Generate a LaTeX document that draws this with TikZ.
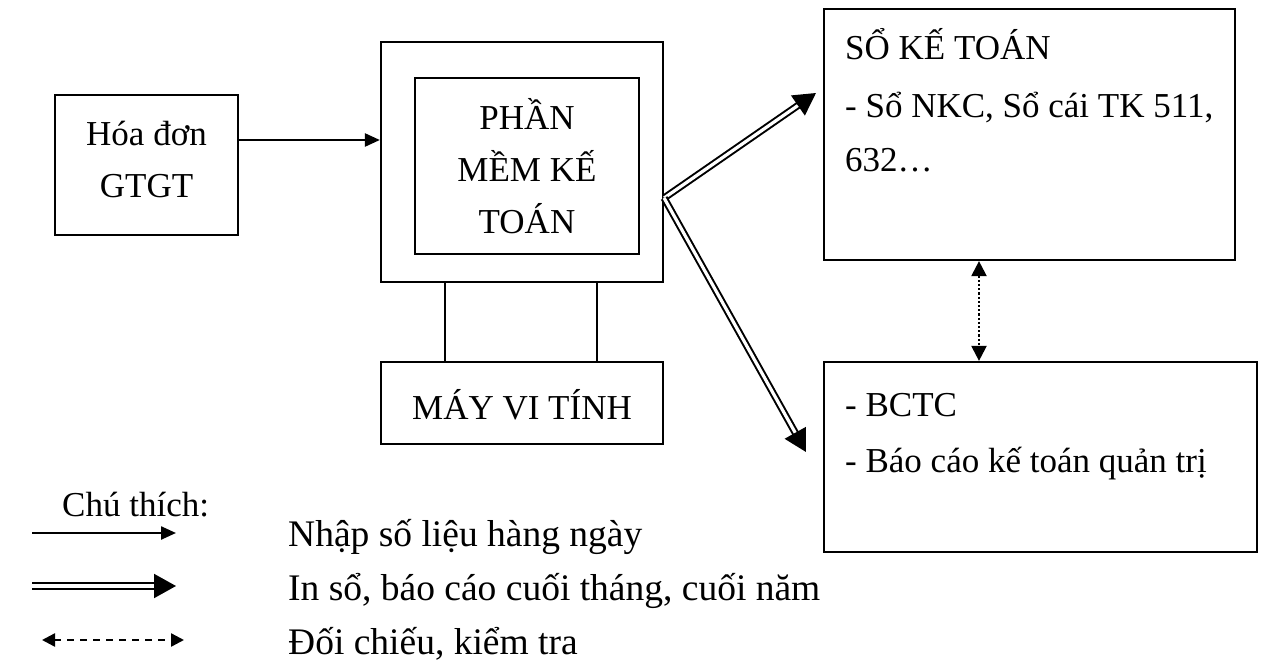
\documentclass[tikz,border=0pt]{standalone}
\usepackage{fontspec}
\setmainfont{Liberation Serif}
\usetikzlibrary{arrows.meta}
\begin{document}
\begin{tikzpicture}[x=1pt,y=-1pt,
  font=\fontsize{35}{52}\selectfont,
  box/.style={draw, line width=2.2pt, inner sep=0pt},
  txt/.style={inner sep=0pt, anchor=base west},
  lgtxt/.style={inner sep=0pt, anchor=base west, font=\fontsize{37.5}{52}\selectfont},
  ctxt/.style={inner sep=0pt, align=center},
  plain/.style={line width=2.2pt},
  solidarrow/.style={line width=2.4pt, -{Triangle[length=15pt,width=13pt]}},
  dblarrow/.style={double, double distance=3.2pt, line width=2pt, -{Triangle[length=22pt,width=24pt]}},
  dotarrow/.style={line width=2.2pt, dotted, {Triangle[length=15pt,width=15pt]}-{Triangle[length=15pt,width=15pt]}},
  dasharrow/.style={line width=2.4pt, dash pattern=on 7pt off 6pt, {Triangle[length=13pt,width=13pt]}-{Triangle[length=13pt,width=13pt]}}
  ]
\useasboundingbox (0,0) rectangle (1262,666);
% boxes
\node[box, minimum width=183pt, minimum height=140pt] (hd) at (146.5,165) {};
\node[box, minimum width=282pt, minimum height=240pt] (pm) at (522,162) {};
\node[box, minimum width=224pt, minimum height=176pt] (pmi) at (527,166) {};
\node[box, minimum width=282pt, minimum height=82pt] (may) at (522,403) {};
\node[box, minimum width=411pt, minimum height=251pt] (so) at (1029.5,134.5) {};
\node[box, minimum width=433pt, minimum height=190pt] (bc) at (1040.5,457) {};
% texts
\node[ctxt] (hdt) at (146.5,160) {Hóa đơn\\GTGT};
\node[ctxt] (pmt) at (527,166) {PHẦN\\MỀM KẾ\\TOÁN};
\node[ctxt] (mayt) at (522,405) {MÁY VI TÍNH};
\node[txt] (so1) at (845,60) {SỔ KẾ TOÁN};
\node[txt] (so2) at (845,118) {- Sổ NKC, Sổ cái TK 511,};
\node[txt] (so3) at (845,172) {632…};
\node[txt] (bc1) at (845,416) {- BCTC};
\node[txt] (bc2) at (845,472) {- Báo cáo kế toán quản trị};
% connectors
\draw[solidarrow] ([yshift=25pt]hd.east) -- ([yshift=22pt]pm.west);
\draw[plain] ([xshift=-77pt]pm.south) -- ([xshift=-77pt]may.north);
\draw[plain] ([xshift=75pt]pm.south) -- ([xshift=75pt]may.north);
\coordinate (o) at ([yshift=-36pt]pm.east);
\coordinate (t1) at (816,93);
\coordinate (t2) at (806,452);
\draw[dblarrow] (o) -- (t1);
\draw[dblarrow] (o) -- (t2);
\draw[dotarrow] ([xshift=-50.5pt]so.south) -- ([xshift=-61.5pt]bc.north);
% legend
\node[txt] (ct) at (62,516) {Chú thích:};
\coordinate (l1a) at (32,533); \coordinate (l1b) at (176,533);
\coordinate (l2a) at (32,586); \coordinate (l2b) at (176,586);
\coordinate (l3a) at (42,640); \coordinate (l3b) at (184,640);
\draw[solidarrow] (l1a) -- (l1b);
\draw[dblarrow] (l2a) -- (l2b);
\draw[dasharrow] (l3a) -- (l3b);
\node[lgtxt] (lg1) at (288,546) {Nhập số liệu hàng ngày};
\node[lgtxt] (lg2) at (288,600) {In sổ, báo cáo cuối tháng, cuối năm};
\node[lgtxt] (lg3) at (288,654) {Đối chiếu, kiểm tra};
\end{tikzpicture}
\end{document}
